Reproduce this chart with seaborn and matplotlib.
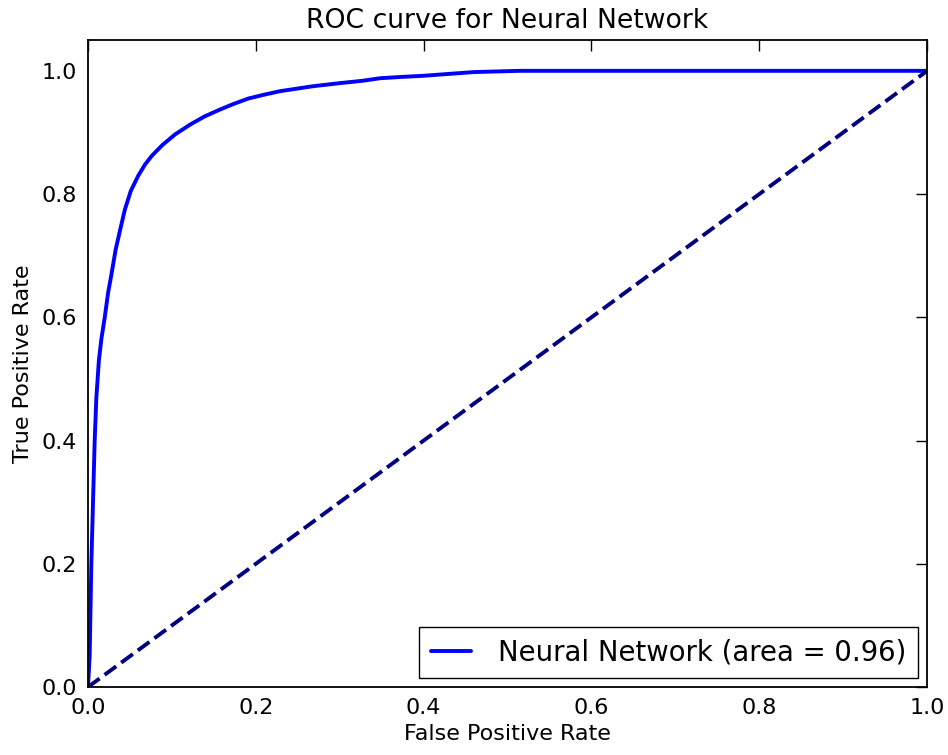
import matplotlib
matplotlib.use("Agg")
import matplotlib.pyplot as plt
import seaborn as sns
import pandas as pd

fpr = [0.0, 0.002, 0.004, 0.006, 0.008, 0.010, 0.013, 0.016, 0.020, 0.024, 0.028,
       0.033, 0.038, 0.044, 0.051, 0.060, 0.068, 0.076, 0.089, 0.104, 0.122, 0.139,
       0.157, 0.173, 0.191, 0.209, 0.229, 0.268, 0.300, 0.328, 0.348, 0.372, 0.40,
       0.43, 0.46, 0.515, 0.7, 1.0]
tpr = [0.0, 0.05, 0.20, 0.30, 0.40, 0.47, 0.53, 0.565, 0.60, 0.64, 0.67,
       0.71, 0.74, 0.775, 0.805, 0.83, 0.848, 0.862, 0.880, 0.897, 0.913, 0.926,
       0.937, 0.946, 0.955, 0.961, 0.967, 0.975, 0.980, 0.984, 0.988, 0.990, 0.992,
       0.995, 0.998, 1.0, 1.0, 1.0]
chance = [0.0, 1.0]
label = "Neural Network (area = 0.96)"
ticks = [0.0, 0.2, 0.4, 0.6, 0.8, 1.0]
tick_labels = ["0.0", "0.2", "0.4", "0.6", "0.8", "1.0"]

sns.set_style("white")
plt.rcParams["font.family"] = ["DejaVu Sans"]
plt.rcParams["text.color"] = "black"
plt.rcParams["axes.labelcolor"] = "black"

fig = plt.figure(figsize=(9.48, 7.55), dpi=100)
ax = fig.add_axes([0.0928, 0.090, 0.8852, 0.857])

df = pd.DataFrame({"fpr": fpr, "tpr": tpr})
sns.lineplot(data=df, x="fpr", y="tpr", sort=False, estimator=None, color="blue",
             linewidth=2.8, label=label, ax=ax)
sns.lineplot(x=chance, y=chance, color="navy", linewidth=2.8, linestyle="--", ax=ax)

ax.set_xlim(0, 1.0)
ax.set_ylim(0, 1.05)
ax.set_xticks(ticks)
ax.set_yticks(ticks)
ax.set_xticklabels(tick_labels)
ax.set_yticklabels(tick_labels)
ax.tick_params(direction="in", length=8, width=1, top=True, right=True,
               labelsize=16, pad=8, colors="black")
for s in ax.spines.values():
    s.set_color("black")
    s.set_linewidth(1.3)
ax.set_xlabel("False Positive Rate", fontsize=16, labelpad=4)
ax.set_ylabel("True Positive Rate", fontsize=16, labelpad=6)
ax.set_title("ROC curve for Neural Network", fontsize=19.2, pad=9)

leg = ax.legend(loc="lower right", fontsize=19.8, frameon=True, fancybox=False,
                handlelength=1.45, borderpad=0.42, handletextpad=1.0,
                borderaxespad=0.33)
leg.get_frame().set_edgecolor("black")
leg.get_frame().set_linewidth(1.0)
leg.get_frame().set_alpha(1)

fig.savefig("out.png", dpi=100)
